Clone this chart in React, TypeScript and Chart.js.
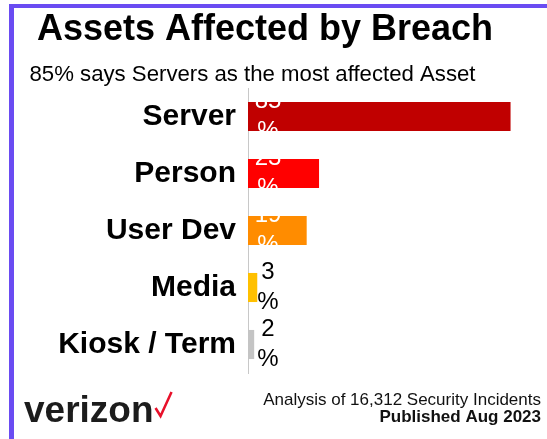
import React, { useEffect, useRef } from "react";
import { Chart, registerables } from "chart.js";

Chart.register(...registerables);

const CATEGORIES = ["Server", "Person", "User Dev", "Media", "Kiosk / Term"];
const VALUES = [85, 23, 19, 3, 2];
const BAR_COLORS = ["#c00000", "#ff0000", "#ff8c00", "#ffc000", "#c4c4c4"];
const LABEL_COLORS = ["#ffffff", "#ffffff", "#ffffff", "#000000", "#000000"];
const TITLE = "Assets Affected by Breach";
const SUBTITLE = "85% says Servers as the most affected Asset";
const FOOT_1 = "Analysis of 16,312 Security Incidents";
const FOOT_2 = "Published Aug 2023";
const BRAND = "verizon";

const FONT = "'Liberation Sans', Arial, Helvetica, sans-serif";

const barLabels = {
  id: "barLabels",
  afterDatasetsDraw(chart: any) {
    const ctx = chart.ctx;
    const meta = chart.getDatasetMeta(0);
    const x0 = chart.scales.x.getPixelForValue(0);
    ctx.save();
    ctx.font = `24px ${FONT}`;
    ctx.textAlign = "center";
    ctx.textBaseline = "middle";
    meta.data.forEach((bar: any, i: number) => {
      ctx.fillStyle = LABEL_COLORS[i];
      ctx.fillText(String(VALUES[i]), x0 + 20, bar.y - 15);
      ctx.fillText("%", x0 + 20, bar.y + 15);
    });
    ctx.restore();
  },
};

const decorations = {
  id: "decorations",
  afterDraw(chart: any) {
    const ctx = chart.ctx;
    ctx.save();
    ctx.fillStyle = "#000";
    ctx.textAlign = "center";
    ctx.textBaseline = "alphabetic";
    ctx.font = `bold 36px ${FONT}`;
    ctx.fillText(TITLE, 265, 40);
    ctx.font = `22.2px ${FONT}`;
    ctx.fillText(SUBTITLE, 252.5, 81);

    ctx.textAlign = "right";
    ctx.font = `17px ${FONT}`;
    ctx.fillStyle = "#111";
    ctx.fillText(FOOT_1, 541, 405);
    ctx.font = `bold 17px ${FONT}`;
    ctx.fillText(FOOT_2, 541, 422);

    ctx.textAlign = "left";
    ctx.font = `bold 37px ${FONT}`;
    ctx.fillStyle = "#1c1c1c";
    ctx.fillText(BRAND, 24, 422);
    const w = ctx.measureText(BRAND).width;
    ctx.strokeStyle = "#e8102a";
    ctx.lineWidth = 2.5;
    ctx.lineJoin = "miter";
    ctx.beginPath();
    ctx.moveTo(24 + w + 2, 408);
    ctx.lineTo(24 + w + 7, 416);
    ctx.lineTo(24 + w + 18, 392);
    ctx.stroke();
    ctx.restore();
  },
};

export default function App() {
  const ref = useRef<HTMLCanvasElement | null>(null);
  useEffect(() => {
    if (!ref.current) return;
    const chart = new Chart(ref.current, {
      type: "bar",
      data: {
        labels: CATEGORIES,
        datasets: [
          {
            data: VALUES,
            backgroundColor: BAR_COLORS,
            borderWidth: 0,
            barPercentage: 0.51,
            categoryPercentage: 1,
          },
        ],
      },
      options: {
        indexAxis: "y",
        animation: false,
        responsive: false,
        maintainAspectRatio: false,
        layout: { padding: { top: 88, bottom: 66, left: 0, right: 21 } },
        plugins: {
          legend: { display: false },
          title: { display: false },
          tooltip: { enabled: false },
        },
        scales: {
          x: {
            display: false,
            min: 0,
            max: 90,
          },
          y: {
            afterFit: (scale: any) => {
              scale.width = 248;
            },
            grid: { display: false, drawTicks: false },
            border: { display: true, color: "#c8c8c8", width: 1 },
            ticks: {
              color: "#000",
              padding: 12,
              font: { family: FONT, size: 30, weight: "bold" },
            },
          },
        },
      },
      plugins: [barLabels, decorations],
    });
    return () => chart.destroy();
  }, []);

  return (
    <div style={{ position: "fixed", left: 0, top: 0, width: 547, height: 439, background: "#fff" }}>
      <div
        style={{
          position: "absolute",
          left: 9,
          top: 4,
          width: 547,
          height: 431,
          borderTop: "4px solid #6a4cf2",
          borderLeft: "5px solid #6a4cf2",
          borderBottom: "3px solid #a18ff5",
          boxSizing: "content-box",
        }}
      />
      <canvas ref={ref} width={547} height={439} style={{ position: "absolute", left: 0, top: 0 }} />
    </div>
  );
}
